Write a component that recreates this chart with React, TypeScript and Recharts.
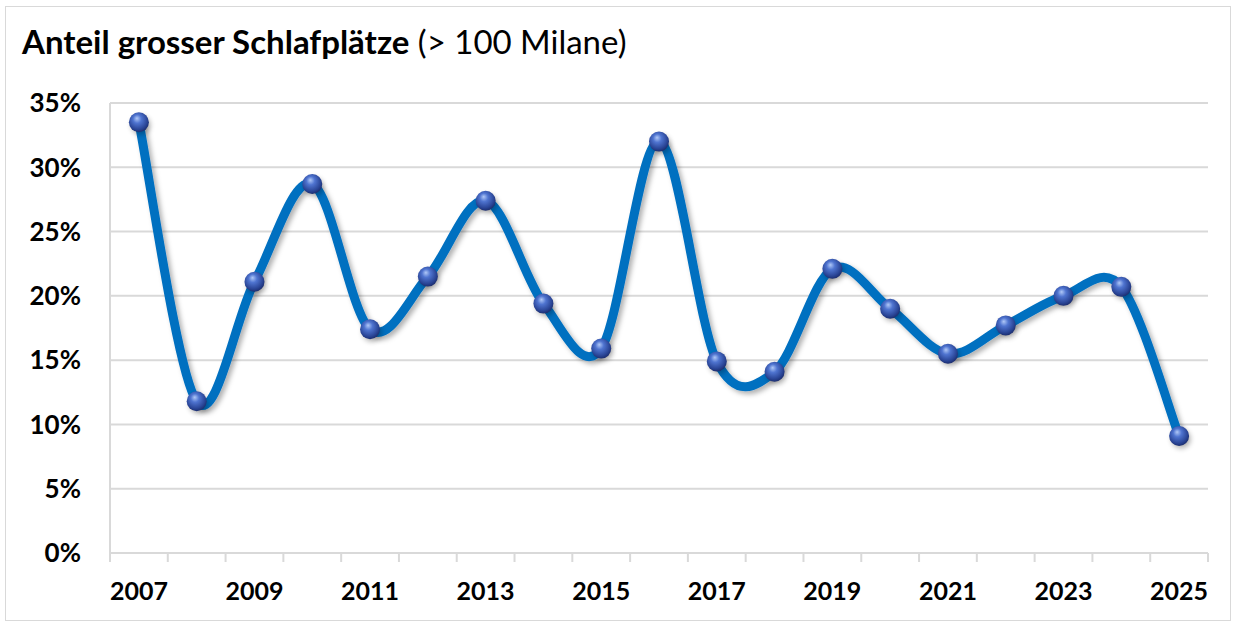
import React from 'react';
import { LineChart, Line, XAxis, YAxis, CartesianGrid } from 'recharts';

// Jahre und Anteile (in %) grosser Schlafplätze
const years = [2007, 2008, 2009, 2010, 2011, 2012, 2013, 2014, 2015, 2016, 2017, 2018, 2019, 2020, 2021, 2022, 2023, 2024, 2025];
const shares = [33.5, 11.8, 21.1, 28.7, 17.4, 21.5, 27.4, 19.4, 15.9, 32.0, 14.9, 14.1, 22.1, 19.0, 15.5, 17.7, 20.0, 20.7, 9.1];
const labelYears = [2007, 2009, 2011, 2013, 2015, 2017, 2019, 2021, 2023, 2025];
const yTicks = [0, 5, 10, 15, 20, 25, 30, 35];

const data = years.map((year, i) => ({ year, share: shares[i] }));

// Grenzen zwischen den Jahren (dort sitzen die Teilstriche)
const boundaries = [...years.map((y) => y - 0.5), years[years.length - 1] + 0.5];
const xTicks = [...boundaries, ...labelYears].sort((a, b) => a - b);

const FONT = 'Lato, "Open Sans", sans-serif';

// Glättung wie in Excel (Catmull-Rom)
const smoothCurve = (context: any) => {
  let pts: [number, number][] = [];
  return {
    areaStart() {},
    areaEnd() {},
    lineStart() {
      pts = [];
    },
    lineEnd() {
      if (!pts.length) return;
      context.moveTo(pts[0][0], pts[0][1]);
      for (let i = 0; i < pts.length - 1; i++) {
        const p0 = pts[i - 1] || pts[i];
        const p1 = pts[i];
        const p2 = pts[i + 1];
        const p3 = pts[i + 2] || p2;
        context.bezierCurveTo(
          p1[0] + (p2[0] - p0[0]) / 6,
          p1[1] + (p2[1] - p0[1]) / 6,
          p2[0] - (p3[0] - p1[0]) / 6,
          p2[1] - (p3[1] - p1[1]) / 6,
          p2[0],
          p2[1]
        );
      }
    },
    point(x: number, y: number) {
      pts.push([x, y]);
    },
  };
};

const XTick = ({ x, y, payload }: any) => {
  const v = payload.value;
  if (!Number.isInteger(v)) {
    return <line x1={x} x2={x} y1={y} y2={y + 9} stroke="#d9d9d9" strokeWidth={2} />;
  }
  return (
    <text x={x} y={y + 47} textAnchor="middle" fontFamily={FONT} fontWeight="bold" fontSize={25} fill="#000">
      {v}
    </text>
  );
};

const SphereDot = ({ cx, cy }: any) => {
  if (cx == null || cy == null) return null;
  return (
    <g>
      <circle cx={cx + 2} cy={cy + 3} r={10} fill="#000" opacity={0.25} filter="url(#blur)" />
      <circle cx={cx} cy={cy} r={10} fill="url(#sphere)" />
    </g>
  );
};

const App: React.FC = () => {
  return (
    <div style={{ position: 'absolute', left: 0, top: 0, width: 1237, height: 628, background: '#fff' }}>
      <div
        style={{
          position: 'absolute',
          left: 5,
          top: 6,
          width: 1224,
          height: 613,
          border: '1px solid #d9d9d9',
        }}
      />
      <div
        style={{
          position: 'absolute',
          left: 22,
          top: 22,
          fontFamily: FONT,
          fontSize: 33,
          lineHeight: 1.2,
          color: '#000',
          whiteSpace: 'nowrap',
        }}
      >
        <span style={{ fontWeight: 'bold' }}>Anteil grosser Schlafplätze</span> (&gt; 100 Milane)
      </div>
      <LineChart width={1237} height={628} data={data} margin={{ top: 103, right: 29, bottom: 25, left: 20 }}>
        <defs>
          <radialGradient id="sphere" cx="45%" cy="40%" r="60%" fx="40%" fy="30%">
            <stop offset="0%" stopColor="#b0c8f7" />
            <stop offset="35%" stopColor="#4f74d0" />
            <stop offset="80%" stopColor="#2a4596" />
            <stop offset="100%" stopColor="#1c2e70" />
          </radialGradient>
          <filter id="blur" x="-50%" y="-50%" width="200%" height="200%">
            <feGaussianBlur stdDeviation="2.5" />
          </filter>
          <filter id="lineShadow" x="-5%" y="-10%" width="110%" height="120%">
            <feDropShadow dx="3" dy="3" stdDeviation="2.5" floodColor="#000" floodOpacity="0.3" />
          </filter>
        </defs>
        <CartesianGrid vertical={false} stroke="#d9d9d9" strokeWidth={2} />
        <XAxis
          dataKey="year"
          type="number"
          domain={[boundaries[0], boundaries[boundaries.length - 1]]}
          ticks={xTicks}
          interval={0}
          tick={<XTick />}
          tickLine={false}
          tickSize={0}
          tickMargin={0}
          axisLine={{ stroke: '#d9d9d9', strokeWidth: 2 }}
          height={50}
          allowDataOverflow
        />
        <YAxis
          domain={[0, 35]}
          ticks={yTicks}
          interval={0}
          tickFormatter={(v: number) => `${v}%`}
          tick={{ fontFamily: FONT, fontWeight: 'bold', fontSize: 26, fill: '#000' }}
          tickLine={false}
          tickSize={0}
          tickMargin={29}
          axisLine={{ stroke: '#d9d9d9', strokeWidth: 2 }}
          width={90}
        />
        <Line
          dataKey="share"
          type={smoothCurve as any}
          stroke="#0070c0"
          strokeWidth={9}
          strokeLinecap="round"
          filter="url(#lineShadow)"
          dot={<SphereDot />}
          activeDot={false}
          isAnimationActive={false}
        />
      </LineChart>
    </div>
  );
};

export default App;
